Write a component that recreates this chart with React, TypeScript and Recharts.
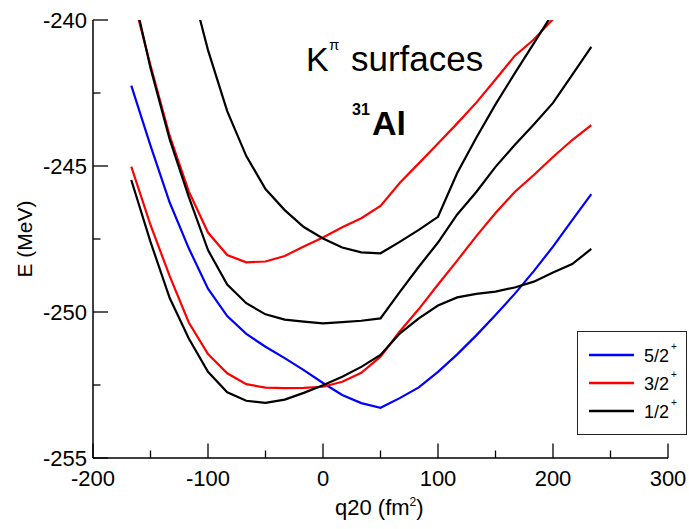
import { LineChart, Line, XAxis, YAxis, Legend } from "recharts";

const FONT = '"Liberation Sans", Arial, Helvetica, sans-serif';

// quadrupole deformation grid (fm^2)
const q20 = [
  -166.7, -150, -133.3, -116.7, -100, -83.3, -66.7, -50, -33.3, -16.7, 0, 16.7, 33.3, 50,
  66.7, 83.3, 100, 116.7, 133.3, 150, 166.7, 183.3, 200, 216.7, 233.3,
];

// energies (MeV)
const k52 = [
  -242.25, -244.3, -246.25, -247.82, -249.2, -250.14, -250.75, -251.19, -251.58, -251.99,
  -252.43, -252.84, -253.12, -253.28, -252.95, -252.58, -252.05, -251.45, -250.8, -250.1,
  -249.38, -248.6, -247.76, -246.85, -245.96,
];
const k32a = [
  -245.02, -247.02, -248.77, -250.36, -251.44, -252.1, -252.47, -252.59, -252.61, -252.6,
  -252.56, -252.39, -252.08, -251.53, -250.67, -249.9, -249.06, -248.24, -247.4, -246.61,
  -245.89, -245.31, -244.69, -244.11, -243.6,
];
const k32b = [
  -239.0, -241.56, -243.97, -245.87, -247.28, -248.05, -248.3, -248.27, -248.08, -247.76,
  -247.45, -247.1, -246.79, -246.37, -245.58, -244.91, -244.23, -243.54, -242.83, -242.04,
  -241.23, -240.67, -239.97, -239.3, -238.6,
];
const k12a = [
  -245.48, -247.6, -249.52, -250.91, -252.05, -252.75, -253.04, -253.11, -253.0, -252.77,
  -252.51, -252.22, -251.88, -251.47, -250.74, -250.22, -249.78, -249.5, -249.38, -249.3,
  -249.16, -248.96, -248.65, -248.36, -247.84,
];
const k12b = [
  -238.75, -241.64, -244.09, -246.06, -247.88, -249.06, -249.7, -250.08, -250.26, -250.33,
  -250.39, -250.35, -250.3, -250.22, -249.32, -248.45, -247.62, -246.66, -245.89, -245.03,
  -244.28, -243.58, -242.84, -241.88, -240.92,
];
const k12c = [
  null, null, null, -238.5, -241.03, -243.12, -244.66, -245.79, -246.51, -247.09,
  -247.48, -247.79, -247.96, -247.99, -247.6, -247.19, -246.74, -245.24, -244.03, -242.89,
  -241.83, -240.8, -239.76, -239.0, -238.2,
];

const xTicks = [-200, -150, -100, -50, 0, 50, 100, 150, 200, 250, 300];
const yTicks = [-255, -252.5, -250, -247.5, -245, -242.5, -240];
const legendOrder = ["5/2", "3/2", "1/2"];

const data = q20.map((q, i) => ({
  q,
  k52: k52[i],
  k32a: k32a[i],
  k32b: k32b[i],
  k12a: k12a[i],
  k12b: k12b[i],
  k12c: k12c[i],
}));

const series = [
  { key: "k52", name: "5/2", color: "#0000ff", legend: true },
  { key: "k32a", name: "3/2", color: "#ff0000", legend: true },
  { key: "k12a", name: "1/2", color: "#000000", legend: true },
  { key: "k32b", name: "3/2 upper", color: "#ff0000", legend: false },
  { key: "k12b", name: "1/2 middle", color: "#000000", legend: false },
  { key: "k12c", name: "1/2 upper", color: "#000000", legend: false },
];

const Y_MARGIN = 6;

function YTick(props: any) {
  const { x, y, payload } = props;
  const v = payload.value;
  const major = v % 5 === 0;
  const ax = x + Y_MARGIN;
  return (
    <g>
      <line x1={ax} x2={ax + (major ? 15 : 7.5)} y1={y} y2={y} stroke="#000" strokeWidth={1.3} />
      {major && (
        <text x={x} y={y} dy={8} textAnchor="end" fontSize={22} fontFamily={FONT} fill="#000">
          {v}
        </text>
      )}
    </g>
  );
}

function XTick(props: any) {
  const { x, y, payload } = props;
  const v = payload.value;
  const major = v % 100 === 0;
  return (
    <g>
      <line x1={x} x2={x} y1={y} y2={y - (major ? 14.5 : 7.5)} stroke="#000" strokeWidth={1.3} />
      {major && (
        <text x={x} y={y + 28} textAnchor="middle" fontSize={22} fontFamily={FONT} fill="#000">
          {v}
        </text>
      )}
    </g>
  );
}

function LegendBox(props: any) {
  const items = (props.payload || []).filter(
    (p: any) => p.type !== "none" && legendOrder.includes(p.value)
  );
  items.sort((a: any, b: any) => legendOrder.indexOf(a.value) - legendOrder.indexOf(b.value));
  return (
    <div
      style={{
        width: 110,
        height: 104,
        boxSizing: "border-box",
        border: "1.3px solid #222",
        background: "#fff",
      }}
    >
      <svg width={108} height={102}>
        {items.map((p: any, i: number) => {
          const cy = 23 + i * 28;
          return (
            <g key={p.value}>
              <line x1={11} x2={56} y1={cy} y2={cy} stroke={p.color} strokeWidth={2.6} />
              <text x={66} y={cy + 7} fontSize={18} fontFamily={FONT} fill="#000">
                {p.value}
              </text>
              <text x={93} y={cy - 5} fontSize={10} fontFamily={FONT} fill="#000">
                +
              </text>
            </g>
          );
        })}
      </svg>
    </div>
  );
}

export default function App() {
  return (
    <div
      style={{
        position: "absolute",
        left: 0,
        top: 0,
        width: 689,
        height: 529,
        background: "#fff",
        fontFamily: FONT,
      }}
    >
      <LineChart width={689} height={529} data={data} margin={{ top: 20, right: 21, bottom: 0, left: 0 }}>
        <XAxis
          type="number"
          dataKey="q"
          domain={[-200, 300]}
          ticks={xTicks}
          interval={0}
          height={71}
          tickLine={false}
          tickSize={0}
          tickMargin={0}
          tick={<XTick />}
          axisLine={{ stroke: "#000", strokeWidth: 1.5 }}
          allowDataOverflow
        />
        <YAxis
          type="number"
          domain={[-255, -240]}
          ticks={yTicks}
          interval={0}
          width={93}
          tickLine={false}
          tickSize={0}
          tickMargin={Y_MARGIN}
          tick={<YTick />}
          axisLine={{ stroke: "#000", strokeWidth: 1.5 }}
          allowDataOverflow
        />
        <Legend
          layout="horizontal"
          verticalAlign="middle"
          align="center"
          wrapperStyle={{ position: "absolute", left: 577, top: 331, width: 110, height: 104 }}
          content={<LegendBox />}
        />
        {series.map((s) => (
          <Line
            key={s.key}
            type="linear"
            dataKey={s.key}
            name={s.name}
            stroke={s.color}
            strokeWidth={2.2}
            dot={false}
            activeDot={false}
            legendType={s.legend ? "line" : "none"}
            isAnimationActive={false}
          />
        ))}
      </LineChart>
      <svg
        width={689}
        height={529}
        style={{ position: "absolute", left: 0, top: 0, pointerEvents: "none" }}
        fontFamily={FONT}
      >
        <text x={306} y={71} fontSize={34} fill="#000">
          K
        </text>
        <text x={329} y={50} fontSize={15} fill="#000">
          π
        </text>
        <text x={351} y={71} fontSize={35} fill="#000">
          surfaces
        </text>
        <text x={352} y={115} fontSize={16} fontWeight="bold" fill="#000">
          31
        </text>
        <text x={372} y={135} fontSize={34} fontWeight="bold" fill="#000">
          Al
        </text>
        <text transform="translate(32,239) rotate(-90)" textAnchor="middle" fontSize={21} fill="#000">
          E (MeV)
        </text>
        <text x={335} y={515} fontSize={22} fill="#000">
          q20 (fm
          <tspan dy={-9} fontSize={12}>
            2
          </tspan>
          <tspan dy={9} fontSize={22}>
            )
          </tspan>
        </text>
      </svg>
    </div>
  );
}
